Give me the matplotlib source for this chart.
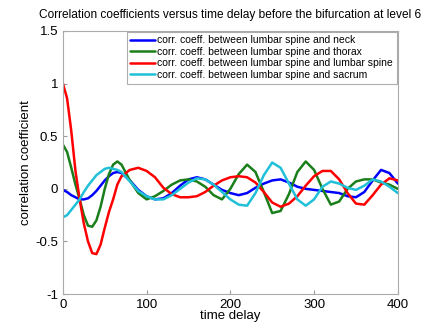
import numpy as np
import matplotlib
matplotlib.use("Agg")
import matplotlib.pyplot as plt

plt.rcParams["font.family"] = ["Liberation Sans", "DejaVu Sans"]

# time delay samples (finer at the start where the red curve is steep)
delay = [0, 5, 10, 15, 20, 25, 30, 35, 40, 45, 50, 55, 60, 65, 70,
         80, 90, 100, 110, 120, 130, 140, 150, 160, 170, 180, 190, 200,
         210, 220, 230, 240, 250, 260, 270, 280, 290, 300, 310, 320, 330,
         340, 350, 360, 370, 380, 390, 400]

neck = [-0.01, -0.03, -0.06, -0.08, -0.10, -0.10, -0.09, -0.06, -0.02, 0.03,
        0.08, 0.12, 0.15, 0.16, 0.15,
        0.08, -0.01, -0.07, -0.10, -0.09, -0.04, 0.03, 0.09, 0.11, 0.09,
        0.04, -0.01, -0.04, -0.06, -0.04, 0.01, 0.05, 0.08, 0.09, 0.06,
        0.02, 0.00, -0.01, -0.02, -0.03, -0.04, -0.07, -0.08, -0.03, 0.08,
        0.18, 0.15, 0.05]

thorax = [0.42, 0.35, 0.20, 0.04, -0.10, -0.25, -0.35, -0.36, -0.30, -0.17,
          0.00, 0.14, 0.23, 0.26, 0.23,
          0.08, -0.04, -0.10, -0.07, -0.02, 0.04, 0.08, 0.09, 0.07, 0.02,
          -0.06, -0.10, 0.00, 0.14, 0.23, 0.16, -0.03, -0.23, -0.21, -0.05,
          0.16, 0.26, 0.18, 0.00, -0.15, -0.12, 0.00, 0.07, 0.09, 0.09,
          0.06, 0.04, 0.00]

lumbar = [1.00, 0.86, 0.55, 0.17, -0.10, -0.33, -0.50, -0.61, -0.62, -0.53,
          -0.37, -0.22, -0.10, 0.04, 0.12,
          0.18, 0.20, 0.17, 0.11, 0.01, -0.05, -0.08, -0.08, -0.07, -0.03,
          0.03, 0.08, 0.11, 0.12, 0.11, 0.06, -0.03, -0.13, -0.17, -0.14,
          -0.07, 0.03, 0.12, 0.17, 0.17, 0.09, -0.04, -0.14, -0.15, -0.06,
          0.04, 0.10, 0.08]

sacrum = [-0.27, -0.25, -0.20, -0.15, -0.10, -0.03, 0.03, 0.08, 0.13, 0.16,
          0.19, 0.20, 0.19, 0.18, 0.16,
          0.07, -0.02, -0.07, -0.10, -0.10, -0.06, 0.00, 0.06, 0.10, 0.09,
          0.04, -0.03, -0.10, -0.15, -0.16, -0.04, 0.13, 0.25, 0.20, 0.05,
          -0.10, -0.16, -0.10, 0.02, 0.07, 0.05, 0.01, -0.01, 0.03, 0.09,
          0.07, 0.02, -0.04]

labels = ["corr. coeff. between lumbar spine and neck",
          "corr. coeff. between lumbar spine and thorax",
          "corr. coeff. between lumbar spine and lumbar spine",
          "corr. coeff. between lumbar spine and sacrum"]
colors = ["#0000ff", "#1a7f1a", "#ff0000", "#20c0d8"]

fig = plt.figure(figsize=(4.25, 3.29), dpi=100)
ax = fig.add_axes([0.148, 0.106, 0.788, 0.800])

for series, lab, col in zip([neck, thorax, lumbar, sacrum], labels, colors):
    ax.plot(delay, series, color=col, lw=1.8, label=lab,
            solid_joinstyle="round", solid_capstyle="round")

ax.set_xlim(0, 400)
ax.set_ylim(-1, 1.5)
ax.set_xticks([0, 100, 200, 300, 400])
ax.set_yticks([-1, -0.5, 0, 0.5, 1, 1.5])
ax.set_yticklabels(["-1", "-0.5", "0", "0.5", "1", "1.5"])
ax.tick_params(direction="in", labelsize=9.5, length=3, color="#999999")
for s in ax.spines.values():
    s.set_color("#aaaaaa")

ax.set_xlabel("time delay", fontsize=9.5, labelpad=-1)
ax.set_ylabel("correlation coefficient", fontsize=9.5, labelpad=2)
ax.set_title("Correlation coefficients versus time delay before the bifurcation at level 6",
             fontsize=8.6, pad=9)

leg = ax.legend(loc="upper right", bbox_to_anchor=(0.997, 0.997), borderaxespad=0,
                fontsize=7.5, fancybox=False, handlelength=2.4, handletextpad=0.2,
                labelspacing=0.15, borderpad=0.35)
leg.get_frame().set_edgecolor("#999999")
leg.get_frame().set_linewidth(0.8)

fig.savefig("out.png", dpi=100)
